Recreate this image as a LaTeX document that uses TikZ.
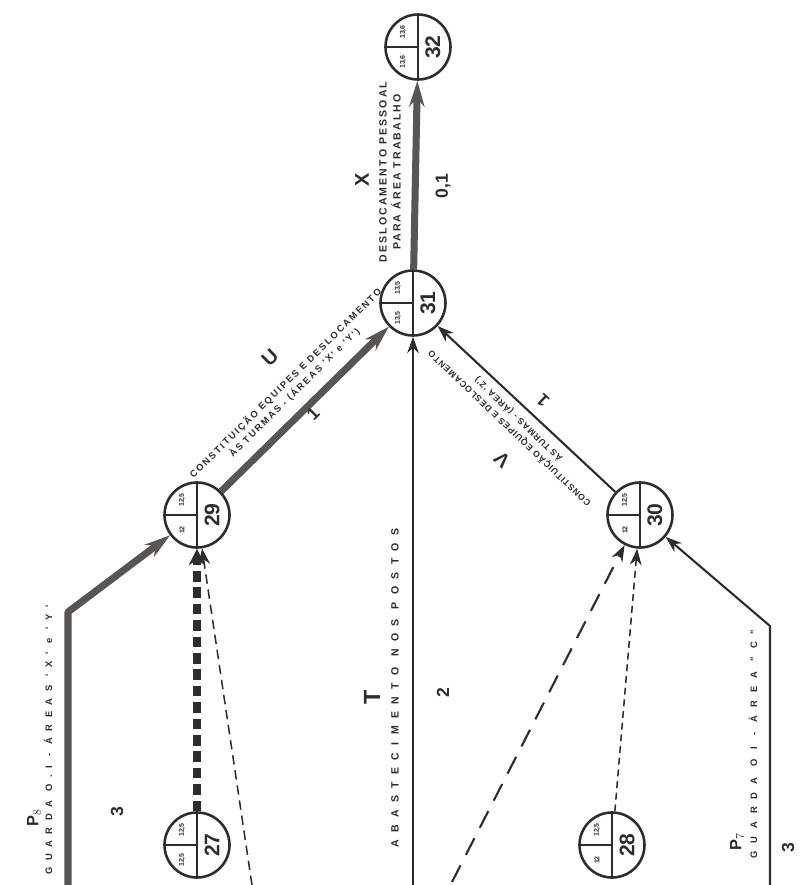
\documentclass[tikz,border=0pt]{standalone}
\usepackage{fontspec}
\setsansfont{Liberation Sans}
\usetikzlibrary{arrows.meta,positioning,calc}
\definecolor{tinta}{RGB}{48,44,42}
\definecolor{tintaclara}{RGB}{88,85,83}
\newfontfamily\rotulo[LetterSpace=20]{Liberation Sans}
\newfontfamily\rotulov[LetterSpace=10]{Liberation Sans}
\newfontfamily\rotulot[LetterSpace=70]{Liberation Sans}
\newfontfamily\rotulop[LetterSpace=70]{Liberation Sans}
\newfontfamily\rotulopp[LetterSpace=85]{Liberation Sans}

\tikzset{
  evento/.style={circle,draw=tinta,line width=2.2pt,fill=white,minimum size=1.95cm,inner sep=0pt},
  numero/.style={rotate=90,text=tinta,font=\sffamily\bfseries\fontsize{18}{18}\selectfont,inner sep=0pt},
  tempo/.style={rotate=90,text=tinta,font=\sffamily\bfseries\fontsize{6}{6}\selectfont,inner sep=0pt},
  grosso/.style={draw=tintaclara,line width=6pt,line join=round,-{Stealth[length=22pt,width=13pt]}},
  fino/.style={draw=tinta,line width=1.8pt,line join=round,-{Stealth[length=14pt,width=10pt]}},
  letra/.style={text=tinta,font=\sffamily\bfseries\fontsize{17}{17}\selectfont,inner sep=0pt},
  duracao/.style={rotate=90,text=tinta,font=\sffamily\bfseries\fontsize{15}{15}\selectfont,inner sep=0pt},
  descr/.style={text=tinta,align=center,inner sep=0pt,font=\rotulo\bfseries\fontsize{9}{12}\selectfont}
}

\begin{document}
\begin{tikzpicture}[x=0.03cm,y=-0.03cm]
\useasboundingbox (0,0) rectangle (799,885);

% eventos
\foreach \id/\px/\py/\cima/\baixo in {27/197/845/{12,5}/{12,5},28/612/845/{12,5}/{12},
    29/197/515/{12,5}/{12},30/640/515/{12,5}/{12},31/413/303/{13,5}/{13,5},32/418/47/{13,6}/{13,6}}{
  \node[evento] (n\id) at (\px,\py) {};
  \draw[tinta,line width=1.6pt] (n\id.north) -- (n\id.south);
  \draw[tinta,line width=1.6pt] (n\id.west) -- (n\id.center);
  \node[numero] at ($(n\id.center)+(15,0)$) {\id};
  \node[tempo] at ($(n\id.center)+(-15,-15)$) {\cima};
  \node[tempo] at ($(n\id.center)+(-15,15)$) {\baixo};
}

% pontas livres
\coordinate (p8ini) at (68,885);
\coordinate (p8dobra) at (68,612);
\coordinate (p7ini) at (770,885);
\coordinate (p7dobra) at (770,626);
\coordinate (tini) at (413,885);
\coordinate (fant1) at (252,885);
\coordinate (fant2) at (452,882);

% atividades
\draw[grosso] (p8ini) -- (p8dobra) -- (n29);
\draw[grosso] (n29) -- (n31);
\draw[grosso] (n31) -- (n32);
\draw[fino] (tini) -- (n31);
\draw[fino] (n30) -- (n31);
\draw[fino] (p7ini) -- (p7dobra) -- (n30);
\draw[draw=tinta,line width=7pt,dash pattern=on 9pt off 5pt,-{Stealth[length=14pt,width=14pt]}] (n27) -- (n29);
\draw[fino,line width=1.3pt,dash pattern=on 8pt off 5pt] (fant1) -- (n29);
\draw[fino,line width=1.8pt,dash pattern=on 16pt off 10pt] (fant2) -- (n30);
\draw[fino,line width=1.3pt,dash pattern=on 6pt off 4pt] (n28) -- (n30);

% rotulos
\node[letra,rotate=90] (rotX) at (362,180) {X};
\node[descr,rotate=90] (txtX) at (390,172) {DESLOCAMENTO PESSOAL\\PARA ÁREA TRABALHO};
\node[duracao] (durX) at (443,186) {0,1};

\node[letra,rotate=44.6] (rotU) at (270,358) {U};
\node[descr,rotate=44.6,font=\rotulo\bfseries\fontsize{8}{11}\selectfont] (txtU) at (290,388) {CONSTITUIÇÃO EQUIPES E DESLOCAMENTO\\ÀS TURMAS - (ÁREAS 'X' e 'Y')};
\node[duracao,rotate=-45.4] (durU) at (313,414) {1};

\node[letra,rotate=136.3] (rotV) at (502,460) {V};
\node[descr,rotate=136.3,font=\rotulov\bfseries\fontsize{7.5}{11}\selectfont] (txtV) at (514,424) {CONSTITUIÇÃO EQUIPES E DESLOCAMENTO\\ÀS TURMAS - (ÁREA 'Z')};
\node[duracao,rotate=46.3] (durV) at (543,400) {1};

\node[letra,rotate=90,font=\sffamily\bfseries\fontsize{20}{20}\selectfont] (rotT) at (372,697) {T};
\node[descr,rotate=90,font=\rotulot\bfseries\fontsize{9}{12}\selectfont] (txtT) at (395,688) {ABASTECIMENTO NOS POSTOS};
\node[duracao] (durT) at (443,693) {2};

\node[letra,rotate=90,font=\sffamily\bfseries\fontsize{14}{14}\selectfont] (rotP8) at (34,818) {P$_8$};
\node[descr,rotate=90,font=\rotulop\bfseries\fontsize{8}{10}\selectfont] (txtP8) at (48,740) {GUARDA O.I - ÁREAS 'X' e 'Y'};
\node[duracao] (durP8) at (117,812) {3};

\node[letra,rotate=90,font=\sffamily\bfseries\fontsize{14}{14}\selectfont] (rotP7) at (737,842) {P$_7$};
\node[descr,rotate=90,font=\rotulopp\bfseries\fontsize{8}{10}\selectfont] (txtP7) at (753,744) {GUARDA O I - ÁREA "C"};
\node[duracao] (durP7) at (788,848) {3};
\end{tikzpicture}
\end{document}
